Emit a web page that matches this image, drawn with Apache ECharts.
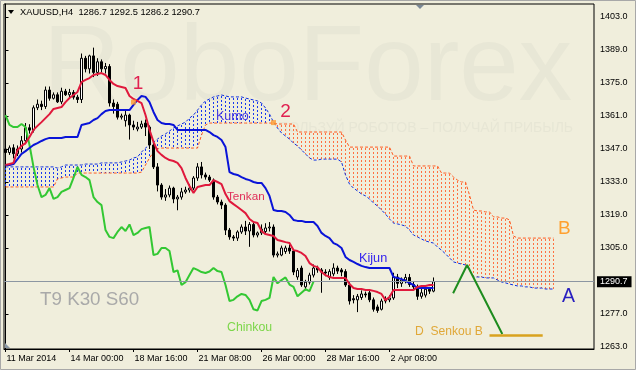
<!DOCTYPE html>
<html><head><meta charset="utf-8">
<script src="https://cdn.jsdelivr.net/npm/echarts@6/dist/echarts.min.js"></script>
<style>html,body{margin:0;padding:0;background:#F0EEDC}#c{width:636px;height:370px}</style>
</head><body><div id="c"></div>
<script>
// ---- data ----
const xTickIdx = [0, 16, 32, 48, 64, 80, 96];
const xTickLabels = ['11 Mar 2014', '14 Mar 00:00', '18 Mar 16:00', '21 Mar 08:00', '26 Mar 00:00', '28 Mar 16:00', '2 Apr 08:00'];
const yTicks = [1263, 1277, 1305, 1319, 1333, 1347, 1361, 1375, 1389, 1403];
const lastPrice = 1290.7;

// candles: [open, close, low, high]
const candles = [
[1347.0,1345.5,1343.5,1349.5],[1345.5,1347.5,1344.5,1348.5],[1347.5,1345.0,1343.0,1349.0],[1345.0,1347.0,1344.0,1348.5],
[1347.0,1350.5,1345.5,1352.5],[1350.5,1356.0,1349.0,1358.0],[1356.0,1355.0,1353.5,1357.5],[1355.0,1364.5,1354.0,1365.5],
[1364.5,1366.0,1363.5,1368.0],[1366.0,1365.0,1363.5,1367.5],[1365.0,1372.0,1364.0,1373.5],[1372.0,1368.5,1367.5,1373.5],
[1368.5,1370.0,1368.0,1371.0],[1370.0,1367.0,1366.5,1371.0],[1367.0,1371.5,1366.0,1373.0],[1371.5,1370.0,1369.5,1372.5],
[1370.0,1371.0,1369.0,1372.5],[1371.0,1369.0,1368.0,1372.0],[1369.0,1368.0,1366.5,1370.0],[1368.0,1385.5,1366.5,1387.5],
[1385.5,1381.0,1379.5,1386.5],[1381.0,1386.5,1379.0,1387.0],[1386.5,1379.5,1377.5,1390.0],[1379.5,1384.0,1378.0,1385.5],
[1384.0,1381.0,1379.5,1385.0],[1381.0,1382.0,1379.0,1383.5],[1382.0,1366.5,1365.0,1383.0],[1366.5,1365.0,1362.0,1368.0],
[1366.0,1360.5,1359.5,1367.0],[1360.5,1361.0,1359.5,1362.0],[1359.0,1361.4,1356.5,1363.5],[1361.4,1357.2,1351.0,1362.0],
[1357.2,1356.3,1355.0,1359.0],[1355.5,1356.3,1354.5,1358.5],[1356.3,1357.6,1355.5,1359.0],[1358.0,1356.3,1352.5,1359.5],
[1356.3,1348.7,1347.0,1357.0],[1348.7,1339.4,1338.5,1349.5],[1339.4,1331.7,1329.0,1341.0],[1331.7,1326.6,1325.5,1332.5],
[1326.6,1327.5,1325.0,1330.0],[1327.5,1330.4,1326.5,1331.5],[1330.4,1325.8,1324.0,1331.0],[1325.8,1326.6,1321.0,1327.5],
[1326.6,1328.8,1325.5,1330.5],[1328.8,1329.6,1328.0,1331.0],[1329.6,1330.4,1328.5,1332.0],[1330.4,1334.7,1329.5,1335.5],
[1334.7,1339.4,1333.5,1341.0],[1339.4,1336.0,1334.5,1341.5],[1336.0,1335.1,1334.0,1337.0],[1335.1,1333.8,1333.0,1336.0],
[1333.8,1326.6,1325.5,1334.5],[1326.6,1324.5,1323.5,1327.5],[1324.5,1323.2,1321.5,1325.5],[1323.2,1312.6,1310.5,1324.0],
[1312.6,1309.7,1308.5,1313.5],[1309.7,1309.2,1308.0,1310.5],[1309.2,1311.8,1308.0,1312.5],[1311.8,1313.9,1311.0,1315.0],
[1313.9,1312.2,1310.5,1316.5],[1312.2,1315.0,1305.5,1316.0],[1315.0,1310.5,1309.5,1316.0],[1310.5,1311.4,1309.5,1312.0],
[1311.4,1313.0,1310.5,1315.0],[1312.0,1313.5,1311.0,1315.5],[1313.5,1313.9,1312.0,1316.0],[1313.9,1302.0,1301.0,1315.0],
[1302.0,1302.5,1301.0,1303.5],[1302.0,1305.0,1301.5,1306.0],[1303.5,1305.0,1302.5,1306.0],[1305.0,1303.7,1302.5,1306.5],
[1303.7,1294.8,1293.5,1304.5],[1292.7,1295.5,1291.5,1296.5],[1296.5,1289.3,1288.5,1297.5],[1288.5,1290.5,1287.0,1291.5],
[1290.5,1293.5,1289.5,1294.5],[1293.5,1296.5,1292.5,1298.0],[1296.5,1295.7,1294.5,1297.5],[1295.7,1294.8,1286.0,1296.5],
[1294.8,1294.4,1293.0,1296.0],[1292.5,1295.0,1291.5,1296.0],[1294.0,1296.5,1293.0,1298.5],[1296.5,1295.2,1294.0,1297.5],
[1295.7,1294.8,1293.0,1296.5],[1295.0,1289.3,1288.5,1296.0],[1289.3,1282.5,1281.0,1290.5],[1283.5,1283.0,1281.5,1285.0],
[1283.0,1284.5,1277.8,1285.5],[1284.0,1285.5,1283.0,1287.0],[1285.5,1285.1,1284.0,1286.5],[1286.0,1283.0,1282.0,1287.0],
[1283.0,1279.0,1278.0,1284.0],[1280.0,1278.5,1277.5,1281.0],[1279.0,1282.5,1278.5,1283.5],[1282.5,1283.0,1281.5,1284.5],
[1283.0,1283.8,1282.0,1285.0],[1283.8,1292.7,1283.0,1294.5],[1292.7,1290.0,1288.0,1294.0],[1290.0,1291.4,1288.5,1292.5],
[1291.4,1292.5,1290.0,1294.0],[1292.5,1289.5,1288.5,1294.0],[1289.5,1288.5,1287.5,1291.0],[1288.5,1284.5,1283.0,1289.5],
[1284.5,1286.0,1283.5,1288.5],[1285.0,1287.5,1284.0,1288.5],[1287.5,1286.7,1285.5,1288.5],[1286.7,1290.7,1286.2,1292.5]
];

const tenkan = [1340.2,1340.6,1341.1,1346.6,1348.3,1349.5,1352.1,1355.1,1356.8,1358.4,1360.1,1361.8,1364.0,1364.4,1364.8,1366.9,
1368.6,1369.9,1371.2,1375.4,1376.3,1377.1,1378.4,1378.8,1379.2,1378.4,1376.3,1374.6,1373.7,1373.3,1372.9,1369.5,1368.2,1367.4,
1366.5,1361.4,1355.1,1350.0,1346.1,1344.5,1343.2,1342.3,1341.9,1341.1,1338.9,1334.7,1331.3,1328.3,1330.9,1331.3,1331.7,1331.7,
1333.8,1333.0,1332.1,1327.9,1324.9,1323.6,1322.4,1321.1,1319.8,1317.3,1316.0,1315.6,1312.2,1310.9,1310.5,1310.1,1308.4,1308.0,
1307.5,1307.1,1304.1,1303.7,1302.9,1301.6,1298.6,1297.4,1296.9,1294.8,1293.5,1292.7,1292.3,1292.3,1292.3,1292.3,1289.7,1288.0,
1287.6,1287.6,1287.2,1287.2,1286.8,1286.3,1285.5,1282.9,1284.2,1287.2,1287.2,1287.2,1287.2,1287.2,1287.2,1288.5,1288.9,1288.9,
1289.3,1289.3];

const kijun = [1340.2,1340.2,1340.6,1342.7,1344.9,1346.1,1347.4,1348.7,1349.5,1350.4,1351.2,1351.7,1351.7,1351.7,1351.7,1352.1,
1352.1,1352.1,1352.1,1357.2,1357.6,1358.0,1359.3,1360.1,1361.8,1363.1,1363.5,1363.5,1363.5,1363.5,1363.5,1363.5,1365.7,1367.8,
1369.5,1369.1,1366.9,1362.7,1359.3,1358.0,1357.6,1357.6,1357.2,1355.1,1355.1,1355.1,1355.1,1355.1,1355.1,1355.1,1355.1,1354.2,
1352.9,1352.1,1350.8,1347.8,1337.2,1336.4,1336.0,1335.1,1334.3,1333.8,1333.0,1332.6,1332.6,1330.4,1327.1,1321.1,1320.7,1320.7,
1320.3,1319.0,1316.9,1316.5,1316.5,1316.0,1316.0,1316.0,1314.3,1311.4,1310.1,1309.2,1307.1,1306.3,1305.0,1301.2,1299.9,1299.1,
1298.2,1297.4,1296.9,1296.5,1296.5,1296.5,1296.5,1296.5,1296.5,1292.7,1292.3,1291.8,1291.0,1290.2,1289.3,1288.0,1288.0,1288.0,
1288.0,1288.0];

const chinkou = [1361.4,1357.2,1356.3,1356.3,1357.6,1356.3,1348.7,1339.4,1331.7,1326.6,1327.5,1330.4,1325.8,1326.6,1328.8,1329.6,
1330.4,1334.7,1339.4,1336.0,1335.1,1333.8,1326.6,1324.5,1323.2,1312.6,1309.7,1309.2,1311.8,1313.9,1312.2,1315.0,1310.5,1311.4,
1313.0,1313.5,1313.9,1302.0,1302.5,1305.0,1305.0,1303.7,1294.8,1295.5,1289.3,1290.5,1293.5,1296.5,1295.7,1294.8,1294.4,1295.0,
1296.5,1295.2,1294.8,1289.3,1282.5,1283.0,1284.5,1285.5,1285.1,1283.0,1279.0,1278.5,1282.5,1283.0,1283.8,1292.7,1290.0,1291.4,
1292.5,1289.5,1288.5,1284.5,1286.0,1287.5,1286.7,1290.7];

const senkouA = [1339.4,1339.4,1339.4,1339.4,1339.4,1339.4,1339.4,1339.4,1339.4,1339.4,1339.4,1339.4,1339.4,1338.9,1339.4,
1340.2,1340.2,1340.2,1340.2,1340.2,1340.6,1340.6,1340.6,1340.6,1341.1,1341.1,1341.1,1341.1,1341.1,1341.5,1341.9,1342.3,1343.2,
1343.6,1345.7,1347.4,1348.7,1349.9,1351.2,1352.5,1353.4,1354.6,1355.9,1356.8,1357.6,1358.4,1360.1,1361.4,1363.5,1365.7,1367.4,
1368.2,1369.1,1369.5,1369.9,1369.5,1369.1,1369.1,1369.1,1369.1,1368.6,1368.2,1367.8,1367.4,1366.5,1364.4,1361.8,1358.4,1355.9,
1353.8,1352.5,1351.2,1349.5,1348.3,1346.6,1344.9,1343.2,1342.3,1342.3,1342.7,1342.7,1342.7,1342.7,1342.7,1341.5,1336.0,1332.1,
1330.4,1329.2,1327.9,1327.1,1325.8,1324.1,1322.8,1321.1,1319.4,1317.3,1315.6,1315.2,1314.8,1314.3,1312.6,1310.5,1309.7,1308.8,
1308.0,1307.5,1307.1,1305.4,1304.1,1302.5,1300.8,1299.1,1298.6,1298.2,1297.8,1295.7,1292.7,1292.7,1292.7,1292.3,1292.3,1292.3,
1291.4,1290.6,1290.2,1289.7,1289.3,1288.9,1288.9,1288.5,1288.5,1288.0,1288.0,1288.0,1287.6,1287.6,1287.6];

const senkouB = [1330.9,1330.9,1330.9,1330.9,1330.9,1330.9,1330.9,1330.9,1330.9,1330.9,1330.9,1330.9,1330.9,1334.3,1334.7,
1335.1,1335.1,1335.1,1336.8,1336.8,1336.8,1336.8,1336.8,1336.8,1336.8,1336.8,1336.8,1336.8,1336.8,1336.8,1336.8,1336.8,1336.8,
1336.8,1337.2,1340.2,1343.2,1345.7,1347.0,1347.4,1347.4,1347.4,1347.4,1347.4,1347.4,1347.4,1347.4,1347.4,1347.4,1352.9,1357.2,
1358.0,1358.0,1358.0,1358.0,1358.0,1358.0,1358.0,1358.0,1358.0,1358.0,1358.0,1358.0,1358.0,1358.0,1358.0,1358.0,1358.0,1357.6,
1357.6,1357.6,1357.6,1357.6,1354.2,1354.2,1354.2,1354.2,1354.2,1354.2,1354.2,1354.2,1354.2,1354.2,1354.2,1354.2,1350.8,1347.8,
1347.8,1347.8,1347.8,1347.8,1347.8,1347.8,1347.8,1347.8,1347.8,1347.8,1344.0,1344.0,1344.0,1344.0,1344.0,1339.8,1339.8,1339.8,
1339.8,1339.8,1339.8,1339.8,1336.8,1336.8,1336.8,1335.1,1333.8,1333.0,1333.0,1327.5,1321.1,1320.7,1320.7,1320.3,1320.3,1318.2,
1318.2,1317.7,1317.7,1316.9,1310.1,1309.2,1309.2,1309.2,1309.2,1309.2,1309.2,1309.2,1309.2,1309.2,1309.2];

// crossing markers 1 and 2: [bar index, price]
const crossPoints = [[32, 1366.9], [67, 1358.2]];
// hand-drawn forecast zigzag and Senkou B target: [bar index, price]
const zigzag = [[111.9, 1285.8], [115.4, 1297.8], [124.2, 1268.5]];
const targetLine = [[121.0, 1267.9], [134.3, 1267.9]];

// ---- chart ----
const BG = '#F0EEDC';
const FONT = 'Liberation Sans';
const KUMO_UP = '#1838F0', KUMO_DN = '#FF7040';
const chart = echarts.init(document.getElementById('c'), null, {renderer: 'canvas'});
const idx = arr => arr.map((v, i) => [i, v]);
const kumoAll = senkouA.map((a, i) => [i, a, senkouB[i]]);
const kumoUp = kumoAll.filter(d => d[1] >= d[2]);
const kumoDn = kumoAll.filter(d => d[1] < d[2]);

function hatchSeries(data, color) {
  return {
    type: 'custom', z: 1, silent: true, color: color, itemStyle: {color: color},
    data: data, encode: {x: 0, y: [1, 2]},
    renderItem: (params, api) => {
      const i = api.value(0), a = api.value(1), b = api.value(2);
      const pa = api.coord([i, a]), pb = api.coord([i, b]);
      const x = Math.floor(pa[0]);
      const y0 = Math.round(Math.min(pa[1], pb[1])), y1 = Math.round(Math.max(pa[1], pb[1]));
      let d = '';
      for (let y = y0 + 1; y < y1; y += 4) {
        const h = Math.min(2, y1 - y);
        d += 'M' + x + ' ' + y + 'h1v' + h + 'h-1Z';
      }
      if (!d) return null;
      return {type: 'path', shape: {pathData: d}, style: {fill: color, stroke: null}};
    }
  };
}

const option = {
  animation: false,
  backgroundColor: BG,
  textStyle: {fontFamily: FONT},
  grid: {left: 4, top: 4, right: 42, bottom: 21, show: true, borderColor: '#000', borderWidth: 1, backgroundColor: BG},
  xAxis: {
    type: 'value', min: -0.375, max: 147.125,
    splitLine: {show: false},
    axisLine: {show: true, lineStyle: {color: '#000'}},
    axisTick: {show: true, length: 3, lineStyle: {color: '#000'}, customValues: xTickIdx},
    axisLabel: {customValues: xTickIdx, formatter: v => xTickLabels[xTickIdx.indexOf(v)] || '',
      color: '#000', fontFamily: FONT, fontSize: 9, align: 'left', margin: 5, padding: [0, 0, 0, 1]}
  },
  yAxis: {
    type: 'value', position: 'right', min: 1262.15, max: 1408.51, scale: true,
    splitLine: {show: false},
    axisLine: {show: true, lineStyle: {color: '#000'}},
    axisTick: {show: true, length: 3, lineStyle: {color: '#000'}, customValues: yTicks},
    axisLabel: {customValues: yTicks, formatter: v => v.toFixed(1), color: '#000', fontFamily: FONT, fontSize: 9, margin: 6}
  },
  graphic: [
    {type: 'rect', shape: {x: 0.5, y: 0.5, width: 635, height: 369}, style: {fill: null, stroke: '#A8A8A8', lineWidth: 1}, z: 100},
    {type: 'text', left: 43, top: 17, style: {text: 'RoboForex', font: '107px "Liberation Sans"', fill: '#E8E7D6'}, z: 0, silent: true},
    {type: 'text', x: 573, y: 128, style: {text: 'ПОЛЬЗУЙ РОБОТОВ – ПОЛУЧАЙ ПРИБЫЛЬ', font: '14px "Liberation Sans"', fill: '#E7E6D5', align: 'right', verticalAlign: 'middle'}, z: 0, silent: true},
    {type: 'polygon', shape: {points: [[8, 10], [14, 10], [11, 14]]}, style: {fill: '#000'}, z: 50},
    {type: 'text', x: 20, y: 12.5, style: {text: 'XAUUSD,H4  1286.7 1292.5 1286.2 1290.7', font: '9.3px "Liberation Sans"', fill: '#000', verticalAlign: 'middle'}, z: 50},
    {type: 'polygon', shape: {points: [[416, 5], [424, 5], [420, 9]]}, style: {fill: '#7A8896'}, z: 50},
    {type: 'polygon', shape: {points: [[5, 343], [5, 348], [10, 348]]}, style: {fill: '#8A97A4'}, z: 50},
    {type: 'text', x: 138, y: 84, style: {text: '1', font: '19px "Liberation Sans"', fill: '#E02050', align: 'center', verticalAlign: 'middle'}, z: 50},
    {type: 'text', x: 285.5, y: 112, style: {text: '2', font: '19px "Liberation Sans"', fill: '#E02050', align: 'center', verticalAlign: 'middle'}, z: 50},
    {type: 'text', x: 216, y: 116.5, style: {text: 'Kumo', font: '12.5px "Liberation Sans"', fill: '#4B3BE0', verticalAlign: 'middle'}, z: 50},
    {type: 'text', x: 227, y: 197, style: {text: 'Tenkan', font: '11.7px "Liberation Sans"', fill: '#E0305A', verticalAlign: 'middle'}, z: 50},
    {type: 'text', x: 359, y: 258, style: {text: 'Kijun', font: '12.7px "Liberation Sans"', fill: '#3322EE', verticalAlign: 'middle'}, z: 50},
    {type: 'text', x: 227, y: 327.5, style: {text: 'Chinkou', font: '12.3px "Liberation Sans"', fill: '#7CD64A', verticalAlign: 'middle'}, z: 50},
    {type: 'text', x: 40, y: 300, style: {text: 'T9 K30 S60', font: '18.8px "Liberation Sans"', fill: '#A9A9A9', verticalAlign: 'middle'}, z: 50},
    {type: 'text', x: 558, y: 229, style: {text: 'B', font: '19px "Liberation Sans"', fill: '#FFA030', verticalAlign: 'middle'}, z: 50},
    {type: 'text', x: 562, y: 297, style: {text: 'A', font: '19.5px "Liberation Sans"', fill: '#2A20C0', verticalAlign: 'middle'}, z: 50},
    {type: 'text', x: 415, y: 332, style: {text: 'D  Senkou B', font: '12.1px "Liberation Sans"', fill: '#E0A838', verticalAlign: 'middle'}, z: 50}
  ],
  series: [
    hatchSeries(kumoUp, KUMO_UP),
    hatchSeries(kumoDn, KUMO_DN),
    {type: 'line', name: 'Senkou A', data: idx(senkouA), showSymbol: false, z: 2, lineStyle: {color: '#1030E0', width: 1, type: [3, 2]}},
    {type: 'line', name: 'Senkou B', data: idx(senkouB), showSymbol: false, z: 2, lineStyle: {color: '#FF5A1F', width: 1, type: [3, 2]}},
    {
      type: 'candlestick', name: 'XAUUSD', z: 3, barWidth: 2,
      data: candles.map((c, i) => [i, c[0], c[1], c[2], c[3]]),
      encode: {x: 0, y: [1, 2, 3, 4]},
      itemStyle: {color: '#FFFFFF', color0: '#000000', borderColor: '#000000', borderColor0: '#000000', borderWidth: 1},
      markLine: {
        silent: true, symbol: 'none', animation: false,
        lineStyle: {color: '#8C96A2', width: 1, type: 'solid'},
        label: {position: 'end', distance: 3, formatter: () => lastPrice.toFixed(1), color: '#fff', backgroundColor: '#000',
          fontFamily: FONT, fontSize: 9, padding: [1, 4, 1, 3]},
        data: [{yAxis: lastPrice}]
      }
    },
    {type: 'line', name: 'Chinkou', data: idx(chinkou), showSymbol: false, z: 4, lineStyle: {color: '#33C833', width: 2}},
    {type: 'line', name: 'Kijun', data: idx(kijun), showSymbol: false, z: 4, lineStyle: {color: '#0A14D8', width: 2}},
    {type: 'line', name: 'Tenkan', data: idx(tenkan), showSymbol: false, z: 5, lineStyle: {color: '#E0193C', width: 2}},
    {type: 'scatter', name: 'cross', data: crossPoints, symbol: 'rect', symbolSize: 5, z: 6, itemStyle: {color: '#FF9A2E'}},
    {type: 'line', name: 'zigzag', data: zigzag, showSymbol: false, z: 6, lineStyle: {color: '#1E8C1E', width: 2}},
    {type: 'line', name: 'target', data: targetLine, showSymbol: false, z: 6, lineStyle: {color: '#D9A21E', width: 2.5}}
  ]
};
chart.setOption(option);
</script>
</body></html>
